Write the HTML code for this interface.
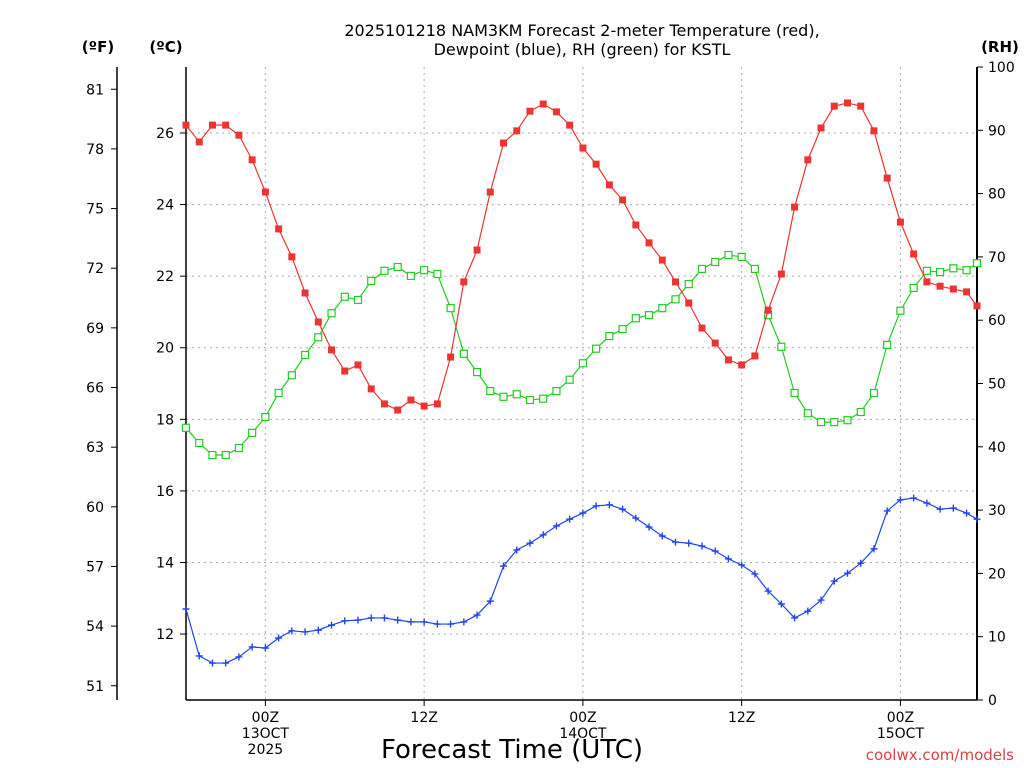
<!DOCTYPE html>
<html><head><meta charset="utf-8"><style>
body{margin:0;background:#fff;}
svg{display:block;font-family:"DejaVu Sans","Liberation Sans",sans-serif;}
</style></head><body>
<svg id="chart" width="1024" height="768">
<text x="582" y="36" font-size="16" text-anchor="middle">2025101218 NAM3KM Forecast 2-meter Temperature (red),</text>
<text x="582" y="55" font-size="16" text-anchor="middle">Dewpoint (blue), RH (green) for KSTL</text>
<text x="98" y="52" font-size="15" font-weight="bold" text-anchor="middle">(ºF)</text>
<text x="166" y="52" font-size="15" font-weight="bold" text-anchor="middle">(ºC)</text>
<text x="1000" y="52" font-size="15" font-weight="bold" text-anchor="middle">(RH)</text>
<text x="512" y="758" font-size="26" text-anchor="middle">Forecast Time (UTC)</text>
<text x="1014" y="760" font-size="15" fill="#e04040" text-anchor="end">coolwx.com/models</text>
<g id="grid"></g><g id="axes"></g><g id="series"></g>
</svg>
<script>
const tempC=[26.22,25.75,26.22,26.22,25.94,25.25,24.35,23.32,22.54,21.53,20.72,19.94,19.35,19.52,18.85,18.43,18.26,18.54,18.37,18.43,19.74,21.84,22.73,24.35,25.72,26.06,26.61,26.81,26.59,26.22,25.58,25.13,24.55,24.13,23.43,22.93,22.45,21.84,21.25,20.55,20.13,19.66,19.52,19.77,21.05,22.06,23.93,25.25,26.14,26.75,26.84,26.75,26.06,24.74,23.51,22.62,21.84,21.72,21.64,21.56,21.17];
const dewC=[12.70,11.39,11.19,11.19,11.36,11.64,11.61,11.89,12.09,12.06,12.11,12.25,12.37,12.39,12.45,12.45,12.39,12.34,12.34,12.28,12.28,12.34,12.53,12.92,13.90,14.35,14.54,14.77,15.02,15.21,15.38,15.58,15.61,15.49,15.24,14.99,14.74,14.57,14.54,14.46,14.32,14.10,13.93,13.68,13.20,12.84,12.45,12.64,12.95,13.48,13.70,13.98,14.38,15.44,15.75,15.80,15.66,15.49,15.52,15.38,15.21];
const rh=[43.0,40.6,38.7,38.7,39.8,42.2,44.7,48.5,51.3,54.5,57.3,61.1,63.7,63.2,66.2,67.8,68.4,67.0,67.9,67.3,61.9,54.7,51.8,48.8,47.9,48.3,47.4,47.6,48.8,50.6,53.2,55.5,57.5,58.6,60.3,60.8,61.9,63.3,65.7,68.1,69.2,70.3,70.0,68.1,60.8,55.8,48.5,45.3,43.9,43.9,44.2,45.5,48.5,56.1,61.5,65.1,67.8,67.6,68.2,67.9,69.0];
const cTicks=[12,14,16,18,20,22,24,26];
const fTicks=[51,54,57,60,63,66,69,72,75,78,81];
const rhTicks=[0,10,20,30,40,50,60,70,80,90,100];
const xTickHours=[6,18,30,42,54];
const xTickLabels=[["00Z","13OCT","2025"],["12Z"],["00Z","14OCT"],["12Z"],["00Z","15OCT"]];

const NS="http://www.w3.org/2000/svg";
const L=186,R=977,T=67,B=700;
const xs=h=>L+h*13.23;
const yc=c=>133+(26-c)*35.79;
const yf=f=>yc((f-32)*5/9);
const yr=v=>B-v*(B-T)/100;
function mk(tag,attrs,parent){const e=document.createElementNS(NS,tag);for(const k in attrs)e.setAttribute(k,attrs[k]);document.getElementById(parent).appendChild(e);return e;}
// grid
cTicks.forEach(c=>{const e=mk('line',{x1:L,x2:R,y1:yc(c),y2:yc(c),stroke:'#aaa','stroke-dasharray':'2,4'},'grid');

});
xTickHours.forEach((h,i)=>{const e=mk('line',{x1:xs(h),x2:xs(h),y1:T,y2:B,stroke:'#aaa','stroke-dasharray':'2,4'},'grid');


mk('line',{x1:xs(h),x2:xs(h),y1:B,y2:B+6,stroke:'#000'},'axes');
xTickLabels[i].forEach((s,j)=>{const t=mk('text',{x:xs(h),y:722+j*16,'font-size':14,'text-anchor':'middle'},'axes');t.textContent=s;

});});
// axes lines
[[L,T,L,B],[R,T,R,B],[L,B,R,B],[117,67,117,700]].forEach(a=>{const e=mk('line',{x1:a[0],y1:a[1],x2:a[2],y2:a[3],stroke:'#000','stroke-width':a[0]==R&&a[2]==R?2:1.5},'axes');

});
cTicks.forEach(c=>{mk('line',{x1:L-6,x2:L,y1:yc(c),y2:yc(c),stroke:'#000'},'axes');
const t=mk('text',{x:174,y:yc(c)+5,'font-size':14,'text-anchor':'end'},'axes');t.textContent=c;

});
fTicks.forEach(f=>{mk('line',{x1:111,x2:117,y1:yf(f),y2:yf(f),stroke:'#000'},'axes');
const t=mk('text',{x:104,y:yf(f)+5,'font-size':14,'text-anchor':'end'},'axes');t.textContent=f;

});
rhTicks.forEach(v=>{mk('line',{x1:R,x2:R+6,y1:yr(v),y2:yr(v),stroke:'#000'},'axes');
const t=mk('text',{x:988,y:yr(v)+5,'font-size':14},'axes');t.textContent=v;

});
// series
function series(vals,yfn,color,kind,name){
 const pts=vals.map((v,i)=>[Math.min(xs(i),R),yfn(v)]);
 const p=mk('polyline',{points:pts.map(p=>p.join(',')).join(' '),fill:'none',stroke:color,'stroke-width':1.2},'series');
 
 
 pts.forEach(([x,y])=>{let m;
  if(kind==='fill')m=mk('rect',{x:x-3.5,y:y-3.5,width:7,height:7,fill:color},'series');
  else if(kind==='hollow')m=mk('rect',{x:x-3.5,y:y-3.5,width:7,height:7,fill:'#fff',stroke:color,'stroke-width':1.2},'series');
  else m=mk('path',{d:`M${x-3.5},${y}H${x+3.5}M${x},${y-3.5}V${y+3.5}`,stroke:color,'stroke-width':1.4},'series');
  
  });
}
series(rh,yr,'#22cc22','hollow','rh');
series(tempC,yc,'#ee3333','fill','temperature');
series(dewC,yc,'#2244ee','plus','dewpoint');
</script>
</body></html>
